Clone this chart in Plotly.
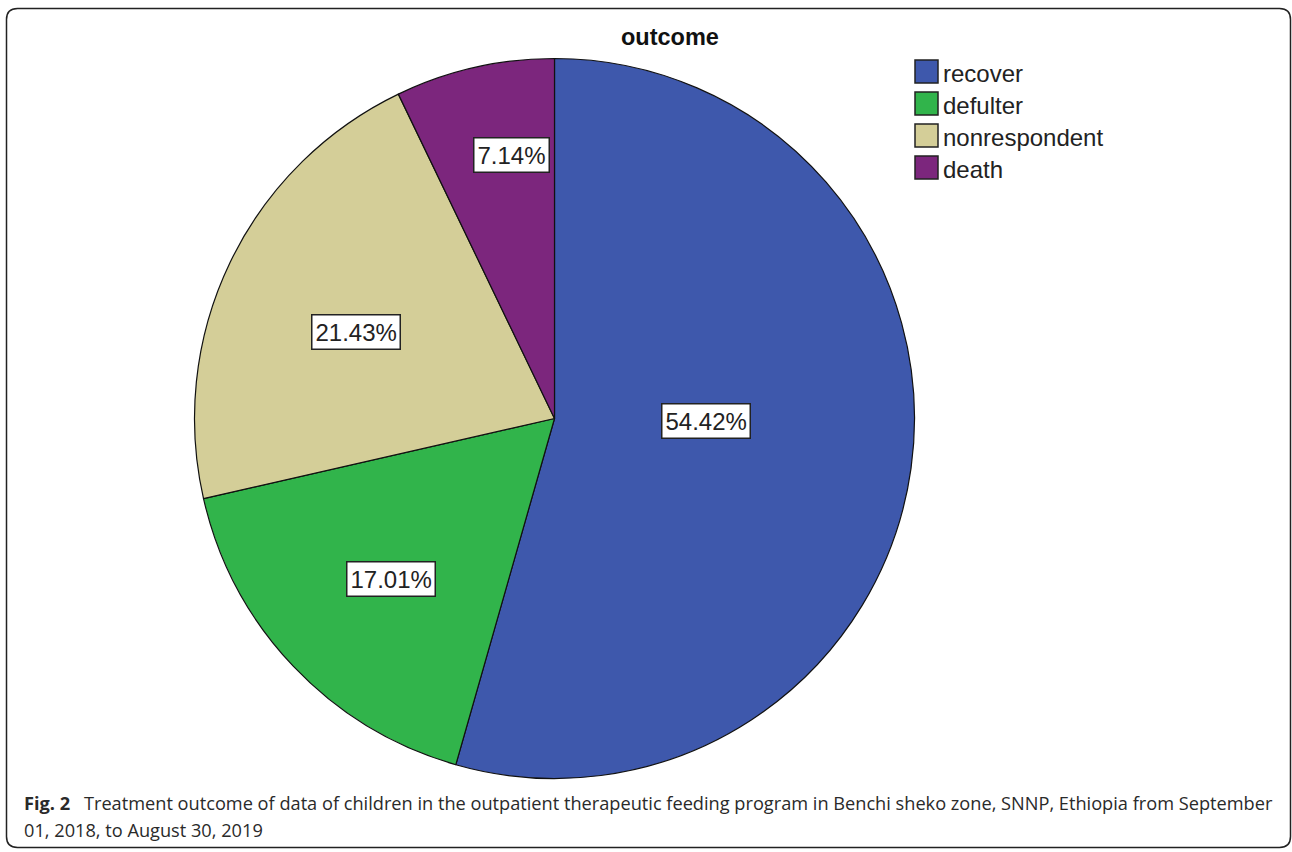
import math
import plotly.graph_objects as go

# Treatment outcome shares (%)
categories = ["recover", "defulter", "nonrespondent", "death"]
shares = [54.42, 17.01, 21.43, 7.14]
colors = ["#3E58AC", "#31B44B", "#D4CE98", "#7C267D"]

# where each value box sits: fraction of the slice's arc, fraction of the radius
label_arc_pos = [0.464, 0.484, 0.47, 0.635]
label_radius = [0.422, 0.636, 0.602, 0.741]

W, H = 1292, 852
CX, CY, R = 554.5, 418.5, 360.0   # pie centre / radius in pixels


def px(x):
    return x / W


def py(y):
    return 1 - y / H


fig = go.Figure()
fig.add_trace(go.Pie(
    labels=categories,
    values=shares,
    sort=False,
    direction="clockwise",
    rotation=0,
    marker=dict(colors=colors, line=dict(color="#111111", width=1.2)),
    textinfo="none",
    hoverinfo="label+percent",
    showlegend=False,
    domain=dict(x=[px(CX - R), px(CX + R)], y=[py(CY + R), py(CY - R)]),
))

annotations = []
shapes = []

# value boxes placed inside each slice, derived from the shares
total = sum(shares)
start = 0.0
for val, fa, fr in zip(shares, label_arc_pos, label_radius):
    span = 360.0 * val / total
    ang = math.radians(start + fa * span)
    x = CX + fr * R * math.sin(ang)
    y = CY - fr * R * math.cos(ang)
    annotations.append(dict(
        x=px(x), y=py(y), xref="paper", yref="paper",
        text=f"{val:.2f}%", showarrow=False,
        font=dict(family="Liberation Sans, Arial", size=24, color="#222222"),
        bgcolor="white", bordercolor="#222222", borderwidth=1.5, borderpad=3,
        xanchor="center", yanchor="middle",
    ))
    start += span

# legend: colour squares with names
LX, LY0, STEP, SQ = 915, 60, 32, 23
for i, (name, col) in enumerate(zip(categories, colors)):
    top = LY0 + i * STEP
    shapes.append(dict(
        type="rect", xref="paper", yref="paper",
        x0=px(LX), x1=px(LX + SQ), y0=py(top + SQ), y1=py(top),
        fillcolor=col, line=dict(color="#222222", width=1.5),
    ))
    annotations.append(dict(
        x=px(LX + SQ + 3), y=py(top + SQ / 2 + 2), xref="paper", yref="paper",
        text=name, showarrow=False, xanchor="left", yanchor="middle",
        font=dict(family="Liberation Sans, Arial", size=24, color="#222222"),
    ))

# chart title
annotations.append(dict(
    x=px(670), y=py(37), xref="paper", yref="paper",
    text="<b>outcome</b>", showarrow=False, xanchor="center", yanchor="middle",
    font=dict(family="Liberation Sans, Arial", size=23.5, color="#111111"),
))

# figure caption
cap_font = dict(family="Open Sans", size=18.2, color="#2a2a2a")
annotations.append(dict(
    x=px(22), y=py(803), xref="paper", yref="paper", xanchor="left", yanchor="middle",
    showarrow=False, font=cap_font,
    text="<b>Fig. 2</b>\u2002 Treatment outcome of data of children in the outpatient therapeutic "
         "feeding program in Benchi sheko zone, SNNP, Ethiopia from September",
))
annotations.append(dict(
    x=px(22), y=py(830), xref="paper", yref="paper", xanchor="left", yanchor="middle",
    showarrow=False, font=cap_font,
    text="01, 2018, to August 30, 2019",
))

# rounded frame around the figure
x0, y0, x1, y1, r = 6.5, 8.5, 1290.5, 847.5, 11
frame = (
    f"M {px(x0 + r)},{py(y0)} L {px(x1 - r)},{py(y0)} Q {px(x1)},{py(y0)} {px(x1)},{py(y0 + r)} "
    f"L {px(x1)},{py(y1 - r)} Q {px(x1)},{py(y1)} {px(x1 - r)},{py(y1)} "
    f"L {px(x0 + r)},{py(y1)} Q {px(x0)},{py(y1)} {px(x0)},{py(y1 - r)} "
    f"L {px(x0)},{py(y0 + r)} Q {px(x0)},{py(y0)} {px(x0 + r)},{py(y0)} Z"
)
shapes.append(dict(type="path", xref="paper", yref="paper", path=frame,
                   line=dict(color="#222222", width=1.5)))

fig.update_layout(
    width=W, height=H, autosize=False,
    margin=dict(l=0, r=0, t=0, b=0),
    paper_bgcolor="white", plot_bgcolor="white",
    annotations=annotations, shapes=shapes,
)

fig.write_html("out.html")
